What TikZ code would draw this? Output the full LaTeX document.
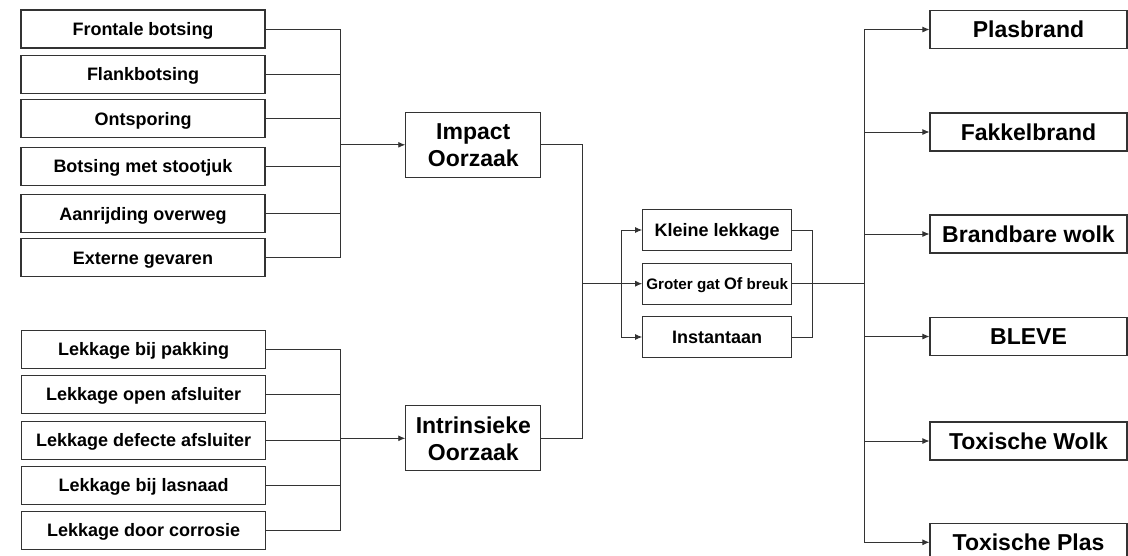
\documentclass[tikz,border=0pt]{standalone}
\usepackage{fontspec}
\setmainfont{Liberation Sans}
\usetikzlibrary{arrows.meta}
\begin{document}
\begin{tikzpicture}[x=1pt,y=-1pt,
  box/.style={draw=black!80,line width=1.1pt,inner sep=0pt},
  srcbox/.style={box,minimum width=244pt,minimum height=38pt,font=\bfseries\fontsize{18}{20}\selectfont,text height=12.9pt,text depth=0pt},
  causebox/.style={box,align=center,minimum width=135pt,minimum height=65pt,font=\bfseries\fontsize{23}{27}\selectfont},
  leakbox/.style={box,minimum width=149pt,minimum height=41pt,font=\bfseries\fontsize{18}{20}\selectfont,text height=12.9pt,text depth=0pt},
  outbox/.style={box,minimum width=197pt,minimum height=38pt,font=\bfseries\fontsize{23}{27}\selectfont,text height=16.5pt,text depth=0pt},
  conn/.style={draw=black!80,line width=0.9pt},
  arr/.style={conn,-{Latex[length=7pt,width=6pt]}}]
\useasboundingbox (0,0) rectangle (1128,555);

% left sources (impact)
\node[srcbox] (f1) at (143,29) {Frontale botsing};
\node[srcbox] (f2) at (143,74.2) {Flankbotsing};
\node[srcbox] (f3) at (143,118.8) {Ontsporing};
\node[srcbox] (f4) at (143,166.3) {Botsing met stootjuk};
\node[srcbox] (f5) at (143,213.7) {Aanrijding overweg};
\node[srcbox] (f6) at (143,257.8) {Externe gevaren};

% left sources (intrinsic)
\node[srcbox] (l1) at (143.7,349.5) {Lekkage bij pakking};
\node[srcbox] (l2) at (143.7,394.2) {Lekkage open afsluiter};
\node[srcbox] (l3) at (143.7,440.5) {Lekkage defecte afsluiter};
\node[srcbox] (l4) at (143.7,485.5) {Lekkage bij lasnaad};
\node[srcbox] (l5) at (143.7,530.5) {Lekkage door corrosie};

% causes
\node[causebox] (imp) at (473.3,144.8) {Impact\\Oorzaak};
\node[causebox] (int) at (473.3,438.3) {Intrinsieke\\Oorzaak};

% leak types
\node[leakbox] (kl) at (717.2,230) {Kleine lekkage};
\node[leakbox,font=\bfseries\fontsize{15.2}{18}\selectfont,text height=11pt] (gr) at (717.2,283.7) {Groter gat {\fontsize{16.5}{18}\selectfont Of} breuk};
\node[leakbox] (in) at (717.2,337) {Instantaan};

% outcomes
\node[outbox] (o1) at (1028.5,29.5) {Plasbrand};
\node[outbox] (o2) at (1028.5,132) {Fakkelbrand};
\node[outbox] (o3) at (1028.5,234) {Brandbare wolk};
\node[outbox] (o4) at (1028.5,336.5) {BLEVE};
\node[outbox] (o5) at (1028.5,441) {Toxische Wolk};
\node[outbox] (o6) at (1028.5,542.3) {Toxische Plas};

% bus coordinates
\coordinate (b1) at (340,144.8);
\coordinate (b2) at (340.7,438.3);
\coordinate (b3) at (582,283.7);
\coordinate (b4) at (621,283.7);
\coordinate (k5) at (812,283.7);
\coordinate (b6) at (864,283.7);

% impact bus
\foreach \n in {f1,f2,f3,f4,f5,f6} \draw[conn] (\n.east) -| (b1);
\draw[arr] (b1) -- (imp.west);

% intrinsic bus
\foreach \n in {l1,l2,l3,l4,l5} \draw[conn] (\n.east) -| (b2);
\draw[arr] (b2) -- (int.west);

% causes to leak types
\draw[conn] (imp.east) -| (b3);
\draw[conn] (int.east) -| (b3);
\draw[arr] (b3) -- (gr.west);
\draw[arr] (b4) |- (kl.west);
\draw[arr] (b4) |- (in.west);

% leak types to outcomes
\draw[conn] (kl.east) -| (k5);
\draw[conn] (in.east) -| (k5);
\draw[conn] (gr.east) -- (b6);
\foreach \n in {o1,o2,o3,o4,o5,o6} \draw[arr] (b6) |- (\n.west);
\end{tikzpicture}
\end{document}
